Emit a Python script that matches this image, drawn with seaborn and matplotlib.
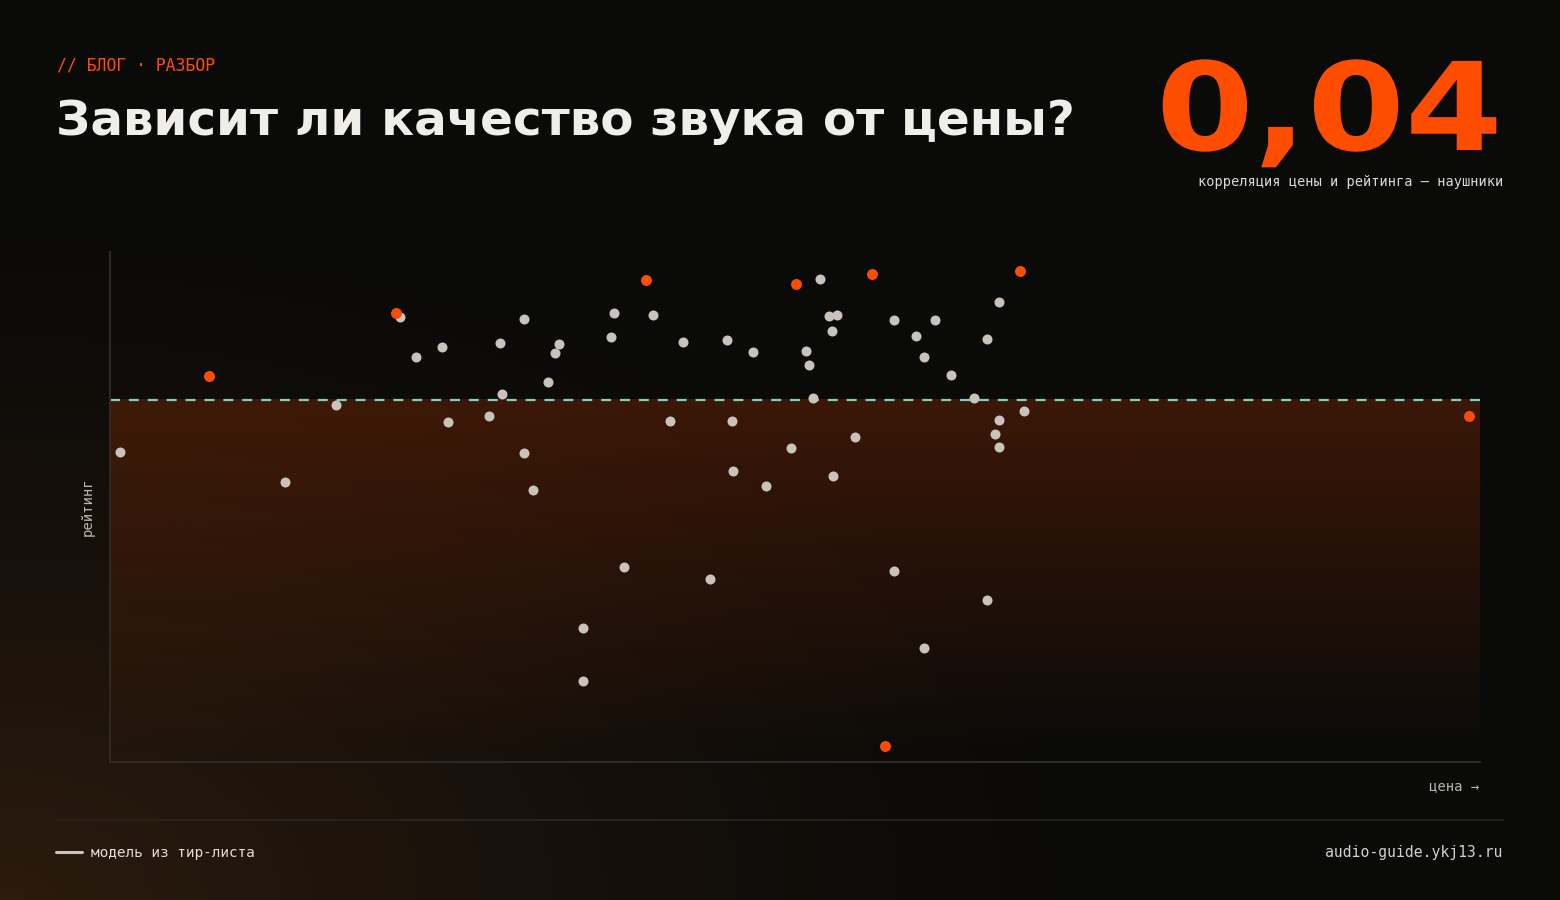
import numpy as np
import pandas as pd
import matplotlib
matplotlib.use('Agg')
import matplotlib.pyplot as plt
import matplotlib.patheffects as pe
from matplotlib.transforms import Affine2D
import seaborn as sns

# цена (условная шкала 0-100) и рейтинг (0-10)
price_other = [0.7, 21.2, 30.2, 22.3, 24.2, 28.5, 28.6, 16.5, 24.7, 27.7,
               30.2, 12.8, 30.9, 32.8, 32.5, 32.0, 36.8, 36.6, 39.6, 41.8,
               45.0, 46.9, 51.8, 52.5, 53.1, 52.7, 50.8, 51.0, 51.3, 57.2,
               60.2, 58.8, 59.4, 61.4, 64.9, 64.0, 63.1, 40.9, 45.4, 54.4,
               49.7, 45.5, 47.9, 52.8, 66.7, 64.9, 64.6, 64.9, 37.5, 43.8,
               57.2, 64.0, 34.5, 59.4, 34.5]
rating_other = [6.08, 8.73, 8.69, 7.94, 8.14, 8.22, 7.22, 7.00, 6.67, 6.78,
                6.06, 5.49, 5.33, 8.20, 8.02, 7.45, 8.80, 8.33, 8.76, 8.24,
                8.27, 8.04, 9.47, 8.75, 8.76, 8.45, 8.06, 7.78, 7.14, 8.67,
                8.67, 8.35, 7.94, 7.59, 9.02, 8.29, 7.14, 6.69, 6.69, 6.37,
                6.16, 5.71, 5.41, 5.61, 6.88, 6.71, 6.43, 6.18, 3.82, 3.59,
                3.75, 3.18, 2.63, 2.24, 1.59]

# модели из тир-листа
price_tier = [7.2, 20.9, 39.1, 50.1, 55.6, 66.4, 99.2, 56.6]
rating_tier = [7.57, 8.80, 9.45, 9.37, 9.57, 9.63, 6.78, 0.31]

mean_rating = 7.10
corr_text = '0,04'

BG = '#0a0a09'
ORANGE = '#ff4d00'
GREY = '#c9c3bc'
TEAL = '#7ecfc4'


class Stretch(pe.AbstractPathEffect):
    # растягивает текст по горизонтали вокруг точки x0 (в пикселях)
    def __init__(self, sx, x0):
        super().__init__()
        self.sx = sx
        self.x0 = x0

    def draw_path(self, renderer, gc, tpath, affine, rgbFace=None):
        t = affine + Affine2D().translate(-self.x0, 0).scale(self.sx, 1).translate(self.x0, 0)
        renderer.draw_path(gc, tpath, t, rgbFace)


sns.set_style('dark')
plt.rcParams['font.family'] = ['DejaVu Sans']

fig = plt.figure(figsize=(15.6, 9), dpi=100, facecolor=BG)

# фоновое свечение снизу слева
bg_ax = fig.add_axes([0, 0, 1, 1], zorder=-10)
gx, gy = np.meshgrid(np.linspace(0, 1560, 400), np.linspace(0, 900, 240))
r = np.sqrt((gx / 1150.0) ** 2 + ((900 - gy) / 720.0) ** 2)
glow = np.clip(1 - r, 0, 1) ** 1.4
base = np.array([10, 10, 9]) / 255.0
warm = np.array([44, 27, 14]) / 255.0
img = base + glow[..., None] * (warm - base)
bg_ax.imshow(img, extent=[0, 1560, 900, 0], aspect='auto')
bg_ax.set_axis_off()

ax = fig.add_axes([110 / 1560, 138 / 900, 1370 / 1560, 510 / 900])
ax.set_facecolor('none')

# заливка под средним рейтингом
fade = np.linspace(0, 0.2, 200)[:, None]
fill = np.zeros((200, 2, 4))
fill[..., 0] = 1.0
fill[..., 1] = 77 / 255
fill[..., 3] = fade
ax.imshow(fill, extent=[0, 100, 0, mean_rating], origin='lower',
          aspect='auto', zorder=1, interpolation='bilinear')

ax.axhline(mean_rating, color=TEAL, lw=1.6, dashes=(4.5, 4), zorder=2)

df_other = pd.DataFrame({'price': price_other, 'rating': rating_other})
df_tier = pd.DataFrame({'price': price_tier, 'rating': rating_tier})
sns.scatterplot(data=df_other, x='price', y='rating', color=GREY, s=52,
                linewidth=0, ax=ax, zorder=3)
sns.scatterplot(data=df_tier, x='price', y='rating', color=ORANGE, s=62,
                linewidth=0, ax=ax, zorder=4)

ax.set_xlim(0, 100)
ax.set_ylim(0, 10)
ax.set_xticks([])
ax.set_yticks([])
ax.set_xlabel('')
ax.set_ylabel('')
ax.grid(False)
for side in ['top', 'right']:
    ax.spines[side].set_visible(False)
for side in ['left', 'bottom']:
    ax.spines[side].set_visible(True)
    ax.spines[side].set_color('#2e2a26')
    ax.spines[side].set_linewidth(1.4)

mono = 'DejaVu Sans Mono'


def px(x, y):
    return x / 1560, 1 - y / 900


fig.text(*px(57, 66), '// БЛОГ · РАЗБОР', color=ORANGE, family=mono,
         fontsize=11.9, va='center', ha='left')
fig.text(*px(56, 135), 'Зависит ли качество звука от цены?', color='#efeee9',
         fontsize=34.8, fontweight='bold', va='baseline', ha='left')
fig.text(*px(1503, 150), corr_text, color=ORANGE, fontsize=88,
         fontweight='bold', va='baseline', ha='right',
         path_effects=[Stretch(1.15, 1503)])
fig.text(*px(1503, 182), 'корреляция цены и рейтинга — наушники',
         color='#ddd8d2', family=mono, fontsize=9.8, va='center', ha='right')

fig.text(*px(88, 507), 'рейтинг', color='#bdb6ae', family=mono, fontsize=10,
         rotation=90, va='center', ha='center')
fig.text(*px(1479, 786), 'цена →', color='#bdb6ae', family=mono, fontsize=10,
         va='center', ha='right')

fig.add_artist(plt.Line2D([56 / 1560, 1503 / 1560], [1 - 820 / 900] * 2,
                          color='#2a2622', lw=1.2, transform=fig.transFigure))
fig.add_artist(plt.Line2D([56 / 1560, 82 / 1560], [1 - 852 / 900] * 2,
                          color=GREY, lw=2.2, transform=fig.transFigure))
fig.text(*px(91, 853), 'модель из тир-листа', color='#e2ddd7', family=mono,
         fontsize=10.4, va='center', ha='left')
fig.text(*px(1503, 853), 'audio-guide.ykj13.ru', color='#d6d0ca', family=mono,
         fontsize=10.6, va='center', ha='right')

fig.savefig('out.png', dpi=100, facecolor=BG)
